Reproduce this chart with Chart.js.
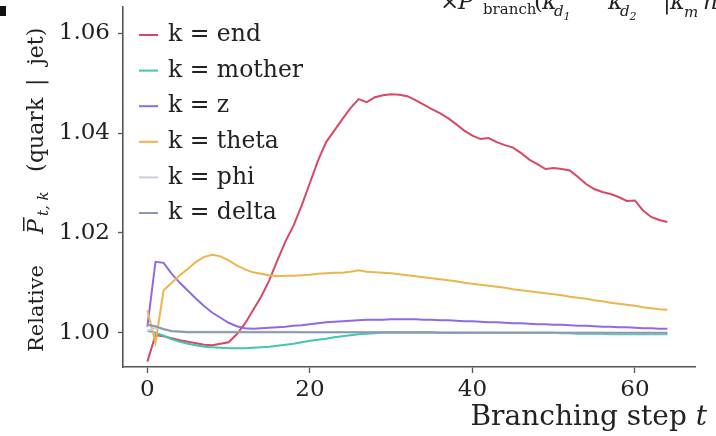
<!DOCTYPE html>
<html>
<head>
<meta charset="utf-8">
<script src="https://cdn.jsdelivr.net/npm/chart.js@4.4.1/dist/chart.umd.min.js"></script>
<style>
  html, body { margin: 0; padding: 0; background: #fff; }
  #wrap { position: relative; width: 716px; height: 436px; overflow: hidden; }
  #chart { position: absolute; left: 0; top: 0; }
  .f { position: absolute; font-family: "DejaVu Serif", serif; color: #222; white-space: nowrap; line-height: 1; }
  .big { font-size: 23px; top: -10px; }
  .sub { font-size: 15px; top: 2px; }
  .it { font-style: italic; }
  #mark { position: absolute; left: 0; top: 6px; width: 6px; height: 10px; background: #111; }
</style>
</head>
<body>
<div id="wrap">
  <canvas id="chart" width="716" height="436"></canvas>
  <div id="mark"></div>
  <!-- clipped bit of the formula above the plot -->
  <span class="f big" style="left:440px">×</span>
  <span class="f big it" style="left:458px">P</span>
  <span class="f sub" style="left:483px">branch</span>
  <span class="f big" style="left:534px">(</span>
  <span class="f big it" style="left:542px">κ</span>
  <span class="f sub it" style="left:554px;top:4px">d<sub style="font-size:11px">1</sub></span>
  <span class="f big it" style="left:608px">κ</span>
  <span class="f sub it" style="left:620px;top:4px">d<sub style="font-size:11px">2</sub></span>
  <span class="f big" style="left:663px">|</span>
  <span class="f big it" style="left:670px">κ</span>
  <span class="f sub it" style="left:684px;top:5px">m</span>
  <span class="f big it" style="left:703px">n</span>
</div>
<script>
// branching steps
const steps = [0, 1, 2, 3, 4, 5, 6, 7, 8, 9, 10, 11, 12, 13, 14, 15, 16, 17, 18, 19,
  20, 21, 22, 23, 24, 25, 26, 27, 28, 29, 30, 31, 32, 33, 34, 35, 36, 37, 38, 39,
  40, 41, 42, 43, 44, 45, 46, 47, 48, 49, 50, 51, 52, 53, 54, 55, 56, 57, 58, 59,
  60, 61, 62, 63, 64];

const seriesNames = ["end", "mother", "z", "theta", "phi", "delta"];

const endVals = [0.9942, 0.9995, 0.9993, 0.9989, 0.9985, 0.9982, 0.9979, 0.9976, 0.9975, 0.9978,
  0.9981, 0.9997, 1.0018, 1.0045, 1.0072, 1.0105, 1.0145, 1.0183, 1.0215, 1.0255,
  1.0300, 1.0345, 1.0382, 1.0405, 1.0428, 1.0450, 1.0468, 1.0462, 1.0472, 1.0476,
  1.0478, 1.0477, 1.0474, 1.0466, 1.0457, 1.0448, 1.0440, 1.0430, 1.0418, 1.0405,
  1.0395, 1.0388, 1.0390, 1.0382, 1.0376, 1.0371, 1.0360, 1.0347, 1.0338, 1.0328,
  1.0330, 1.0328, 1.0325, 1.0312, 1.0298, 1.0288, 1.0282, 1.0278, 1.0272, 1.0264,
  1.0265, 1.0245, 1.0232, 1.0226, 1.0222];

const motherVals = [1.0004, 1.0000, 0.9994, 0.9987, 0.9982, 0.9978, 0.9975, 0.9972, 0.9971, 0.9970,
  0.9969, 0.9969, 0.9969, 0.9970, 0.9971, 0.9972, 0.9974, 0.9976, 0.9978, 0.9981,
  0.9984, 0.9986, 0.9988, 0.9991, 0.9993, 0.9995, 0.9997, 0.9998, 0.9999, 1.0000,
  1.0000, 1.0000, 1.0000, 1.0000, 1.0000, 1.0000, 1.0000, 1.0000, 1.0000, 1.0000,
  1.0000, 1.0000, 1.0000, 1.0000, 1.0000, 1.0000, 1.0000, 1.0000, 1.0000, 1.0000,
  1.0000, 0.9999, 0.9999, 0.9998, 0.9998, 0.9998, 0.9998, 0.9997, 0.9997, 0.9997,
  0.9997, 0.9997, 0.9997, 0.9997, 0.9997];

const zVals = [1.0012, 1.0142, 1.0140, 1.0118, 1.0100, 1.0084, 1.0068, 1.0053, 1.0040, 1.0030,
  1.0020, 1.0013, 1.0009, 1.0008, 1.0009, 1.0010, 1.0011, 1.0012, 1.0014, 1.0015,
  1.0017, 1.0019, 1.0021, 1.0022, 1.0023, 1.0024, 1.0025, 1.0026, 1.0026, 1.0026,
  1.0027, 1.0027, 1.0027, 1.0027, 1.0026, 1.0026, 1.0025, 1.0025, 1.0024, 1.0023,
  1.0023, 1.0022, 1.0021, 1.0021, 1.0020, 1.0019, 1.0019, 1.0018, 1.0017, 1.0017,
  1.0016, 1.0016, 1.0015, 1.0014, 1.0014, 1.0013, 1.0012, 1.0012, 1.0011, 1.0011,
  1.0010, 1.0009, 1.0009, 1.0008, 1.0008];

const thetaVals = [1.0045, 0.9980, 1.0085, 1.0100, 1.0115, 1.0128, 1.0142, 1.0152, 1.0156, 1.0153,
  1.0145, 1.0135, 1.0127, 1.0121, 1.0118, 1.0115, 1.0113, 1.0114, 1.0114, 1.0115,
  1.0116, 1.0118, 1.0119, 1.0120, 1.0120, 1.0122, 1.0125, 1.0122, 1.0121, 1.0120,
  1.0119, 1.0117, 1.0115, 1.0113, 1.0111, 1.0109, 1.0107, 1.0105, 1.0103, 1.0100,
  1.0098, 1.0096, 1.0094, 1.0092, 1.0090, 1.0087, 1.0085, 1.0083, 1.0081, 1.0079,
  1.0077, 1.0075, 1.0072, 1.0070, 1.0068, 1.0065, 1.0063, 1.0060, 1.0058, 1.0056,
  1.0054, 1.0051, 1.0049, 1.0047, 1.0046];

const phiVals = [1.0004, 1.0010, 1.0008, 1.0004, 1.0003, 1.0002, 1.0002, 1.0002, 1.0002, 1.0002,
  1.0002, 1.0002, 1.0002, 1.0002, 1.0002, 1.0002, 1.0002, 1.0002, 1.0002, 1.0001,
  1.0001, 1.0001, 1.0001, 1.0001, 1.0001, 1.0001, 1.0001, 1.0001, 1.0001, 1.0001,
  1.0001, 1.0001, 1.0001, 1.0001, 1.0001, 1.0001, 1.0001, 1.0001, 1.0001, 1.0001,
  1.0000, 1.0000, 1.0000, 1.0000, 1.0000, 1.0000, 1.0000, 1.0000, 1.0000, 1.0000,
  1.0000, 1.0000, 1.0000, 1.0000, 1.0000, 1.0000, 1.0000, 0.9999, 0.9999, 0.9999,
  0.9999, 0.9999, 0.9999, 0.9999, 0.9999];

const deltaVals = [1.0016, 1.0013, 1.0007, 1.0003, 1.0002, 1.0001, 1.0001, 1.0001, 1.0001, 1.0001,
  1.0001, 1.0001, 1.0001, 1.0001, 1.0001, 1.0001, 1.0001, 1.0001, 1.0001, 1.0001,
  1.0001, 1.0001, 1.0001, 1.0001, 1.0001, 1.0001, 1.0001, 1.0001, 1.0001, 1.0001,
  1.0001, 1.0001, 1.0001, 1.0001, 1.0001, 1.0001, 1.0000, 1.0000, 1.0000, 1.0000,
  1.0000, 1.0000, 1.0000, 1.0000, 1.0000, 1.0000, 1.0000, 1.0000, 1.0000, 1.0000,
  1.0000, 1.0000, 1.0000, 1.0000, 1.0000, 1.0000, 1.0000, 1.0000, 1.0000, 1.0000,
  1.0000, 1.0000, 1.0000, 1.0000, 1.0000];

const xTicks = [0, 20, 40, 60];
const yTicks = [1.00, 1.02, 1.04, 1.06];

const allVals = [endVals, motherVals, zVals, thetaVals, phiVals, deltaVals];
const colors = ["#d94765", "#3fc7b1", "#8e6ae6", "#edb44f", "#cdd0dc", "#8b98b0"];

const SERIF = '"DejaVu Serif", serif';

// legend drawn inside the axes, matplotlib style
const insideLegend = {
  id: "insideLegend",
  afterDraw(chart) {
    const ctx = chart.ctx;
    ctx.save();
    ctx.font = "23.5px " + SERIF;
    ctx.textBaseline = "middle";
    seriesNames.forEach((name, i) => {
      const y = 35 + i * 35.6;
      ctx.strokeStyle = colors[i];
      ctx.lineWidth = 2;
      ctx.beginPath();
      ctx.moveTo(139, y);
      ctx.lineTo(158, y);
      ctx.stroke();
      ctx.fillStyle = "#222";
      ctx.fillText("k = " + name, 168, y);
    });
    ctx.restore();
  },
};

// axis titles with the bits of math
const axisTitles = {
  id: "axisTitles",
  afterDraw(chart) {
    const ctx = chart.ctx;
    ctx.save();
    ctx.fillStyle = "#222";
    ctx.textBaseline = "alphabetic";

    // y title, rotated; pieces placed along the axis like mathtext does
    ctx.translate(43, 352);
    ctx.rotate(-Math.PI / 2);
    ctx.font = "21px " + SERIF;
    ctx.fillText("Relative", 0, 0);
    ctx.font = "italic 22px " + SERIF;
    ctx.fillText("P", 118, 0);
    const pw = ctx.measureText("P").width;
    ctx.fillRect(121, -20, pw - 1, 1.5);
    ctx.font = "italic 15px " + SERIF;
    ctx.fillText("t, k", 136, 5);
    ctx.font = "22px " + SERIF;
    ctx.fillText("(", 180, 0);
    ctx.fillText("quark", 189, 0);
    ctx.fillText("|", 266, 0);
    ctx.fillText("jet)", 287, 0);
    ctx.restore();

    // x title, right aligned
    ctx.save();
    ctx.fillStyle = "#222";
    ctx.textBaseline = "alphabetic";
    const right = 707;
    ctx.font = "italic 28px " + SERIF;
    const tw = ctx.measureText("t").width;
    ctx.fillText("t", right - tw, 425);
    ctx.font = "28px " + SERIF;
    const bw = ctx.measureText("Branching step ").width;
    ctx.fillText("Branching step ", right - tw - bw, 425);
    ctx.restore();
  },
};

const datasets = allVals.map((vals, i) => ({
  label: "k = " + seriesNames[i],
  data: vals.map((v, j) => ({ x: steps[j], y: v })),
  borderColor: colors[i],
  backgroundColor: colors[i],
  borderWidth: 2,
  pointRadius: 0,
  tension: 0,
  fill: false,
  order: allVals.length - i,
}));

new Chart(document.getElementById("chart").getContext("2d"), {
  type: "line",
  data: { datasets: datasets },
  options: {
    responsive: false,
    animation: false,
    devicePixelRatio: 1,
    layout: { padding: { left: 0, right: 21, top: 7, bottom: 0 } },
    plugins: {
      legend: { display: false },
      tooltip: { enabled: false },
    },
    scales: {
      x: {
        type: "linear",
        min: -3.0,
        max: 67.4,
        afterBuildTicks: (axis) => {
          axis.ticks = xTicks.map((v) => ({ value: v }));
        },
        afterFit: (axis) => {
          axis.height = 69;
          axis.paddingLeft = 0;
          axis.paddingRight = 0;
        },
        border: { display: true, color: "#555", width: 1.6 },
        grid: { drawOnChartArea: false, drawTicks: true, tickLength: 6, tickColor: "#555", tickWidth: 1.3 },
        ticks: { color: "#222", font: { family: SERIF, size: 23 }, padding: 3, maxRotation: 0 },
      },
      y: {
        min: 0.99313,
        max: 1.06527,
        afterBuildTicks: (axis) => {
          axis.ticks = yTicks.map((v) => ({ value: v }));
        },
        afterFit: (axis) => {
          axis.width = 123;
          axis.paddingTop = 0;
          axis.paddingBottom = 0;
        },
        border: { display: true, color: "#555", width: 1.6 },
        grid: { drawOnChartArea: false, drawTicks: true, tickLength: 5, tickColor: "#555", tickWidth: 1.3 },
        ticks: {
          color: "#222",
          font: { family: SERIF, size: 23 },
          padding: 8,
          callback: (v) => v.toFixed(2),
        },
      },
    },
  },
  plugins: [insideLegend, axisTitles],
});
</script>
</body>
</html>
